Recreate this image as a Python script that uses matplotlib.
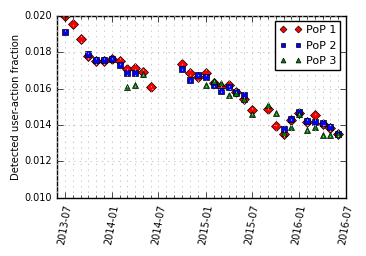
import numpy as np
import matplotlib
matplotlib.use('Agg')
import matplotlib.pyplot as plt
import matplotlib.dates as mdates
from datetime import date

plt.style.use('classic')

# months since 2013-07
months = np.arange(36)
nan = np.nan
pop1 = [0.0200, 0.01953, 0.01872, 0.01781, 0.01752, 0.01752, 0.01762, 0.01752, 0.01709, 0.01715,
        0.01693, 0.01607, nan, nan, nan, 0.01735, 0.01684, 0.01662, 0.01687, 0.01632,
        0.01611, 0.01622, 0.01580, 0.01545, 0.01483, nan, 0.01487, 0.01395, 0.01350, 0.01425,
        0.01465, 0.01415, 0.01455, 0.01405, 0.01385, 0.01350]
pop2 = [0.01909, nan, nan, 0.01792, 0.01755, 0.01755, 0.01764, 0.01728, 0.01687, 0.01687,
        nan, nan, nan, nan, nan, 0.01706, 0.01647, 0.01673, 0.01662, 0.01622,
        0.01585, 0.01607, 0.01581, 0.01563, nan, nan, nan, nan, 0.01377, 0.01432,
        0.01473, 0.01422, 0.01419, 0.01410, 0.01388, 0.01353]
pop3 = [nan, nan, nan, nan, nan, nan, nan, nan, 0.01611, 0.01618,
        0.01680, nan, nan, nan, nan, nan, nan, nan, 0.01618, 0.01640,
        0.01629, 0.01563, 0.01574, 0.01541, 0.01461, nan, 0.01510, 0.01468, 0.01355, 0.01391,
        0.01459, 0.01373, 0.01391, 0.01346, 0.01346, 0.01353]

dates = [date(2013 + (6 + m) // 12, (6 + m) % 12 + 1, 1) for m in months]

fig = plt.figure(figsize=(3.66, 2.56), dpi=100, facecolor='white')
ax = fig.add_axes([0.156, 0.227, 0.789, 0.712])

ax.plot(dates, pop1, 'D', color='red', mec='black', mew=0.5, ms=5, label='PoP 1')
ax.plot(dates, pop2, 's', color='blue', mec='black', mew=0.5, ms=5, label='PoP 2')
ax.plot(dates, pop3, '^', color='green', mec='black', mew=0.5, ms=5, label='PoP 3')

ax.set_xlim(date(2013, 6, 1), date(2016, 7, 1))
ax.set_ylim(0.010, 0.020)
ax.set_yticks([0.010, 0.012, 0.014, 0.016, 0.018, 0.020])
ax.yaxis.set_major_formatter(matplotlib.ticker.FormatStrFormatter('%.3f'))
ax.xaxis.set_major_locator(mdates.MonthLocator(bymonth=[1, 7]))
ax.xaxis.set_minor_locator(mdates.MonthLocator())
ax.xaxis.set_major_formatter(mdates.DateFormatter('%Y-%m'))
for lbl in ax.get_xticklabels():
    lbl.set_rotation(80)
    lbl.set_ha('center')

ax.grid(True, which='major', color='0.75', linestyle=':', linewidth=0.6)
ax.grid(True, which='minor', axis='x', color='0.75', linestyle=':', linewidth=0.6)
ax.tick_params(labelsize=7, length=4)
ax.tick_params(which='minor', length=2)
ax.set_ylabel('Detected user-action fraction', fontsize=7.2, labelpad=2)

leg = ax.legend(loc='upper right', fontsize=8, numpoints=2, fancybox=False, markerscale=0.7,
                borderpad=0.35, labelspacing=0.5, handletextpad=0.4)
leg.get_frame().set_linewidth(1.0)

fig.savefig('out.png', dpi=100, facecolor='white')
